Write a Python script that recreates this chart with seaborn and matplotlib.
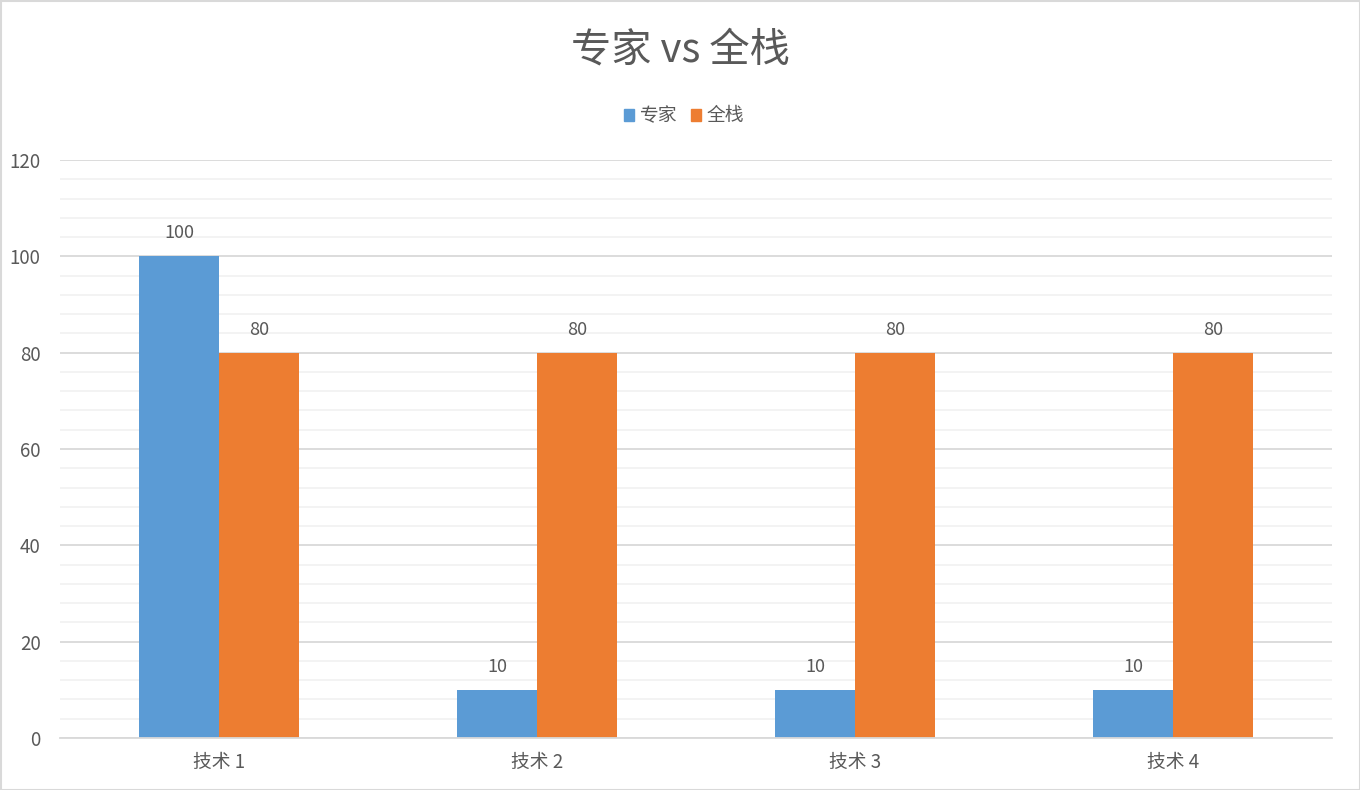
import matplotlib
matplotlib.use("Agg")
import matplotlib.pyplot as plt
import pandas as pd
import seaborn as sns
from matplotlib.patches import Rectangle
from matplotlib.ticker import MultipleLocator

# 数据
categories = ["技术 1", "技术 2", "技术 3", "技术 4"]
series_names = ["专家", "全栈"]
expert_vals = [100, 10, 10, 10]
fullstack_vals = [80, 80, 80, 80]
colors = ["#5B9BD5", "#ED7D31"]

df = pd.DataFrame({
    "cat": categories * 2,
    "series": [series_names[0]] * 4 + [series_names[1]] * 4,
    "value": expert_vals + fullstack_vals,
})

sns.set_style("white")
plt.rcParams["font.family"] = ["Noto Sans CJK SC", "DejaVu Sans"]
plt.rcParams["font.weight"] = "light"
txt = "#595959"

fig = plt.figure(figsize=(13.6, 7.9), dpi=100)
ax = fig.add_axes([60 / 1360, 52 / 790, 1272 / 1360, 578 / 790])

sns.barplot(data=df, x="cat", y="value", hue="series", palette=colors,
            width=0.503, saturation=1, linewidth=0, ax=ax, legend=False)

for c in ax.containers:
    ax.bar_label(c, padding=10, fontsize=13, color=txt)

ax.set_ylim(0, 120)
ax.set_xlim(-0.5, 3.5)
ax.yaxis.set_major_locator(MultipleLocator(20))
ax.yaxis.set_minor_locator(MultipleLocator(4))
ax.grid(axis="y", which="major", color="#D9D9D9", linewidth=1.3)
ax.grid(axis="y", which="minor", color="#F2F2F2", linewidth=1.3)
ax.set_axisbelow(True)
for s in ["top", "right", "left"]:
    ax.spines[s].set_visible(False)
ax.spines["bottom"].set_color("#D9D9D9")
ax.spines["bottom"].set_linewidth(1.3)
ax.tick_params(axis="both", which="both", length=0, labelsize=13.5, labelcolor=txt)
ax.tick_params(axis="y", pad=14)
ax.tick_params(axis="x", pad=10)
ax.set_xlabel("")
ax.set_ylabel("")

# 图例
handles = [Rectangle((0, 0), 1, 1, color=col) for col in colors]
fig.legend(handles, series_names, loc="center", bbox_to_anchor=(684 / 1360, 1 - 116 / 790),
           ncol=2, frameon=False, fontsize=13.5, labelcolor=txt,
           handlelength=0.55, handleheight=0.55, handletextpad=0.3, columnspacing=0.7)

fig.text(0.5, 1 - 50 / 790, "专家 vs 全栈", ha="center", va="center", fontsize=29, color=txt)

# 外框
fig.patches.append(Rectangle((0.5 / 1360, 0.5 / 790), 1 - 1 / 1360, 1 - 1 / 790,
                             transform=fig.transFigure, fill=False,
                             edgecolor="#D9D9D9", linewidth=1.5))

fig.savefig("out.png", dpi=100)
